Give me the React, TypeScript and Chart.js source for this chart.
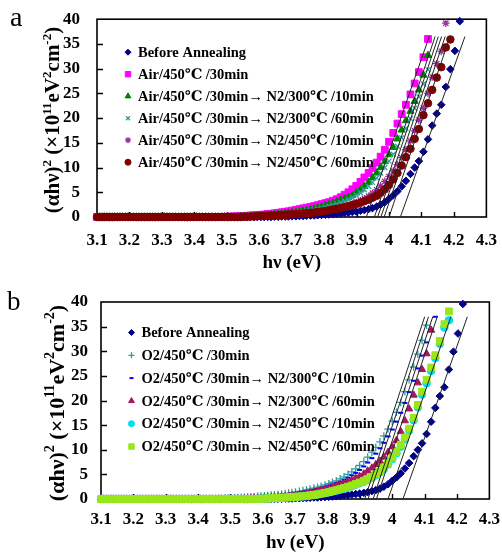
import React, { useEffect, useRef } from "react";
import { Chart, registerables } from "chart.js";
import { drawPoint } from "chart.js/helpers";

Chart.register(...registerables);

const FONT = '"Liberation Serif", "Times New Roman", "DejaVu Serif", "Noto Sans CJK SC", serif';

// photon energy grid (eV) shared by all spectra
const energy = [
  3.100, 3.108, 3.116, 3.123, 3.131, 3.139, 3.147, 3.155, 3.163, 3.171,
  3.179, 3.188, 3.196, 3.204, 3.212, 3.221, 3.229, 3.238, 3.246, 3.255,
  3.263, 3.272, 3.280, 3.289, 3.298, 3.307, 3.316, 3.324, 3.333, 3.342,
  3.351, 3.360, 3.370, 3.379, 3.388, 3.397, 3.407, 3.416, 3.425, 3.435,
  3.444, 3.454, 3.464, 3.473, 3.483, 3.493, 3.503, 3.513, 3.523, 3.533,
  3.543, 3.553, 3.563, 3.573, 3.584, 3.594, 3.605, 3.615, 3.626, 3.636,
  3.647, 3.658, 3.669, 3.680, 3.690, 3.701, 3.713, 3.724, 3.735, 3.746,
  3.758, 3.769, 3.780, 3.792, 3.804, 3.815, 3.827, 3.839, 3.851, 3.863,
  3.875, 3.887, 3.899, 3.912, 3.924, 3.937, 3.949, 3.962, 3.974, 3.987,
  4.000, 4.013, 4.026, 4.039, 4.052, 4.066, 4.079, 4.092, 4.106, 4.120,
  4.133, 4.147, 4.161, 4.175, 4.189, 4.203, 4.218, 4.232,
];

const xTickValues = [3.1, 3.2, 3.3, 3.4, 3.5, 3.6, 3.7, 3.8, 3.9, 4.0, 4.1, 4.2, 4.3];
const xTickLabels = ["3.1", "3.2", "3.3", "3.4", "3.5", "3.6", "3.7", "3.8", "3.9", "4", "4.1", "4.2", "4.3"];
const yTickValues = [0, 5, 10, 15, 20, 25, 30, 35, 40];
const yTickLabels = ["0", "5", "10", "15", "20", "25", "30", "35", "40"];

// ---- (αhν)² values, ×10^11 eV² cm^-2 ----
const beforeAnnealing = [
  0, 0, 0, 0, 0, 0, 0, 0, 0, 0,
  0, 0, 0, 0, 0, 0, 0, 0, 0, 0,
  0, 0, 0, 0, 0, 0, 0, 0, 0, 0,
  0, 0, 0, 0, 0, 0, 0, 0, 0, 0,
  0, 0, 0, 0, 0, 0, 0, 0, 0, 0,
  0, 0, 0, 0, 0, 0, 0, 0, 0, 0,
  0.05, 0.05, 0.1, 0.1, 0.1, 0.15, 0.15, 0.2, 0.2, 0.25,
  0.3, 0.3, 0.35, 0.4, 0.45, 0.5, 0.55, 0.6, 0.7, 0.8,
  0.9, 1.0, 1.1, 1.25, 1.4, 1.6, 1.8, 2.1, 2.5, 3.0,
  3.7, 4.4, 5.2, 6.2, 7.3, 8.7, 10.0, 11.3, 13.2, 15.7,
  18.5, 20.9, 22.7, 26.3, 29.9, 33.6, 39.6,
];

// panel a: air annealed
const air450_30 = [
  0, 0, 0, 0, 0, 0, 0, 0, 0, 0,
  0, 0, 0, 0, 0, 0, 0, 0, 0, 0,
  0, 0, 0, 0, 0, 0, 0, 0, 0, 0,
  0, 0, 0, 0, 0, 0, 0, 0, 0, 0,
  0, 0, 0, 0, 0, 0.05, 0.05, 0.1, 0.1, 0.15,
  0.2, 0.2, 0.25, 0.3, 0.35, 0.4, 0.45, 0.5, 0.6, 0.65,
  0.75, 0.85, 0.95, 1.05, 1.15, 1.3, 1.45, 1.6, 1.75, 1.9,
  2.05, 2.2, 2.4, 2.6, 2.8, 3.0, 3.3, 3.6, 4.0, 4.5,
  5.0, 5.6, 6.3, 7.1, 8.0, 8.9, 9.9, 11.0, 12.2, 13.6,
  15.2, 17.0, 18.9, 20.8, 22.7, 24.8, 27.0, 29.3, 32.3, 36.0,
];
const air_n2_300_10 = [
  0, 0, 0, 0, 0, 0, 0, 0, 0, 0,
  0, 0, 0, 0, 0, 0, 0, 0, 0, 0,
  0, 0, 0, 0, 0, 0, 0, 0, 0, 0,
  0, 0, 0, 0, 0, 0, 0, 0, 0, 0,
  0, 0, 0, 0, 0, 0, 0, 0, 0, 0,
  0.1, 0.1, 0.15, 0.15, 0.2, 0.25, 0.3, 0.35, 0.4, 0.45,
  0.5, 0.55, 0.65, 0.7, 0.8, 0.9, 1.0, 1.1, 1.2, 1.35,
  1.5, 1.65, 1.85, 2.05, 2.3, 2.55, 2.8, 3.1, 3.4, 3.7,
  4.0, 4.4, 4.9, 5.5, 6.2, 7.0, 7.9, 8.9, 10.0, 11.2,
  12.6, 14.1, 15.8, 17.6, 19.5, 21.4, 23.4, 25.7, 28.7, 32.7,
];
const air_n2_300_60 = [
  0, 0, 0, 0, 0, 0, 0, 0, 0, 0,
  0, 0, 0, 0, 0, 0, 0, 0, 0, 0,
  0, 0, 0, 0, 0, 0, 0, 0, 0, 0,
  0, 0, 0, 0, 0, 0, 0, 0, 0, 0,
  0, 0, 0, 0, 0, 0, 0, 0, 0, 0,
  0.1, 0.1, 0.15, 0.15, 0.2, 0.2, 0.25, 0.3, 0.35, 0.4,
  0.45, 0.5, 0.55, 0.6, 0.7, 0.8, 0.9, 1.0, 1.1, 1.2,
  1.35, 1.5, 1.65, 1.8, 2.0, 2.2, 2.4, 2.65, 2.95, 3.25,
  3.6, 3.95, 4.4, 4.9, 5.5, 6.2, 7.0, 7.9, 8.9, 10.0,
  11.3, 12.7, 14.3, 16.0, 17.9, 19.9, 22.0, 24.3, 26.9, 29.8,
];
const air_n2_450_10 = [
  0, 0, 0, 0, 0, 0, 0, 0, 0, 0,
  0, 0, 0, 0, 0, 0, 0, 0, 0, 0,
  0, 0, 0, 0, 0, 0, 0, 0, 0, 0,
  0, 0, 0, 0, 0, 0, 0, 0, 0, 0,
  0, 0, 0, 0, 0, 0, 0, 0, 0, 0,
  0, 0, 0.05, 0.05, 0.1, 0.1, 0.15, 0.15, 0.2, 0.2,
  0.25, 0.3, 0.35, 0.4, 0.45, 0.5, 0.55, 0.6, 0.65, 0.7,
  0.8, 0.9, 1.0, 1.1, 1.2, 1.35, 1.5, 1.65, 1.85, 2.05,
  2.3, 2.6, 2.9, 3.3, 3.7, 4.2, 4.8, 5.5, 6.3, 7.2,
  8.2, 9.3, 10.6, 12.0, 13.6, 15.4, 17.4, 19.6, 22.0, 25.0,
  28.3, 31.0, 33.5, 39.2,
];
const air_n2_450_60 = [
  0, 0, 0, 0, 0, 0, 0, 0, 0, 0,
  0, 0, 0, 0, 0, 0, 0, 0, 0, 0,
  0, 0, 0, 0, 0, 0, 0, 0, 0, 0,
  0, 0, 0, 0, 0, 0, 0, 0, 0, 0,
  0, 0, 0, 0, 0, 0, 0, 0, 0, 0,
  0, 0.05, 0.05, 0.1, 0.1, 0.15, 0.2, 0.2, 0.25, 0.3,
  0.3, 0.35, 0.4, 0.45, 0.5, 0.55, 0.6, 0.65, 0.7, 0.75,
  0.85, 0.9, 1.0, 1.1, 1.2, 1.35, 1.5, 1.65, 1.8, 2.0,
  2.2, 2.4, 2.65, 2.9, 3.2, 3.5, 3.9, 4.3, 4.9, 5.6,
  6.5, 7.6, 8.9, 10.4, 12.1, 13.8, 15.8, 17.8, 20.6, 23.0,
  25.7, 28.2, 30.3, 34.3, 35.9,
];

// panel b: O2 annealed
const o2450_30 = [
  0, 0, 0, 0, 0, 0, 0, 0, 0, 0,
  0, 0, 0, 0, 0, 0, 0, 0, 0, 0,
  0, 0, 0, 0, 0, 0, 0, 0, 0, 0,
  0, 0, 0, 0, 0, 0, 0, 0, 0, 0,
  0.05, 0.05, 0.1, 0.1, 0.15, 0.15, 0.2, 0.25, 0.3, 0.3,
  0.35, 0.4, 0.45, 0.5, 0.55, 0.6, 0.65, 0.7, 0.8, 0.85,
  0.9, 1.0, 1.1, 1.2, 1.3, 1.4, 1.55, 1.7, 1.85, 2.0,
  2.2, 2.4, 2.6, 2.85, 3.1, 3.4, 3.7, 4.1, 4.5, 5.0,
  5.5, 6.1, 6.8, 7.6, 8.5, 9.5, 10.5, 11.6, 12.8, 14.2,
  15.8, 17.6, 19.6, 21.8, 24.2, 26.8, 29.4, 32.2, 35.3,
];
const o2_n2_300_10 = [
  0, 0, 0, 0, 0, 0, 0, 0, 0, 0,
  0, 0, 0, 0, 0, 0, 0, 0, 0, 0,
  0, 0, 0, 0, 0, 0, 0, 0, 0, 0,
  0, 0, 0, 0, 0, 0, 0, 0, 0, 0,
  0, 0, 0, 0, 0, 0.05, 0.1, 0.1, 0.15, 0.2,
  0.2, 0.25, 0.3, 0.35, 0.4, 0.45, 0.5, 0.55, 0.6, 0.65,
  0.7, 0.8, 0.9, 0.95, 1.05, 1.15, 1.3, 1.4, 1.55, 1.7,
  1.85, 2.0, 2.2, 2.4, 2.65, 2.9, 3.2, 3.5, 3.9, 4.3,
  4.8, 5.3, 5.9, 6.6, 7.4, 8.3, 9.2, 10.3, 11.4, 12.7,
  14.1, 15.7, 17.5, 19.5, 21.7, 24.0, 26.5, 29.1, 31.8, 34.5,
  37.0,
];
const o2_n2_300_60 = [
  0, 0, 0, 0, 0, 0, 0, 0, 0, 0,
  0, 0, 0, 0, 0, 0, 0, 0, 0, 0,
  0, 0, 0, 0, 0, 0, 0, 0, 0, 0,
  0, 0, 0, 0, 0, 0, 0, 0, 0, 0,
  0, 0, 0, 0, 0, 0, 0, 0, 0, 0,
  0.05, 0.1, 0.1, 0.15, 0.2, 0.2, 0.25, 0.3, 0.35, 0.4,
  0.45, 0.5, 0.55, 0.6, 0.7, 0.8, 0.9, 1.0, 1.15, 1.3,
  1.45, 1.6, 1.8, 2.0, 2.2, 2.45, 2.7, 2.95, 3.2, 3.5,
  3.8, 4.2, 4.6, 5.1, 5.7, 6.3, 7.0, 7.7, 8.5, 9.5,
  10.6, 11.9, 13.7, 15.9, 18.3, 21.1, 23.6, 26.3, 29.5, 34.3,
];
const o2_n2_450_10 = [
  0, 0, 0, 0, 0, 0, 0, 0, 0, 0,
  0, 0, 0, 0, 0, 0, 0, 0, 0, 0,
  0, 0, 0, 0, 0, 0, 0, 0, 0, 0,
  0, 0, 0, 0, 0, 0, 0, 0, 0, 0,
  0, 0, 0, 0, 0, 0, 0, 0, 0, 0,
  0, 0, 0, 0, 0.05, 0.08, 0.1, 0.12, 0.15, 0.2,
  0.22, 0.25, 0.3, 0.35, 0.4, 0.45, 0.5, 0.55, 0.62, 0.7,
  0.8, 0.9, 1.05, 1.2, 1.35, 1.5, 1.7, 1.9, 2.1, 2.35,
  2.6, 2.9, 3.2, 3.5, 3.9, 4.3, 4.8, 5.4, 6.1, 7.0,
  8.1, 9.3, 10.6, 12.1, 13.9, 16.0, 18.6, 21.2, 23.5, 26.0,
  28.6, 31.5, 34.8, 36.3,
];
const o2_n2_450_60 = [
  0, 0, 0, 0, 0, 0, 0, 0, 0, 0,
  0, 0, 0, 0, 0, 0, 0, 0, 0, 0,
  0, 0, 0, 0, 0, 0, 0, 0, 0, 0,
  0, 0, 0, 0, 0, 0, 0, 0, 0, 0,
  0, 0, 0, 0, 0, 0, 0, 0, 0, 0,
  0, 0, 0, 0, 0.05, 0.05, 0.1, 0.1, 0.15, 0.2,
  0.2, 0.25, 0.3, 0.35, 0.4, 0.45, 0.5, 0.55, 0.65, 0.75,
  0.85, 0.95, 1.1, 1.25, 1.4, 1.6, 1.8, 2.0, 2.25, 2.5,
  2.75, 3.05, 3.35, 3.7, 4.1, 4.5, 5.0, 5.6, 6.4, 7.3,
  8.4, 9.6, 11.0, 12.5, 14.3, 16.5, 19.1, 21.8, 24.2, 26.7,
  29.2, 32.1, 35.5, 38.1,
];

const labelsA = [
  "Before Annealing",
  "Air/450℃ /30min",
  "Air/450℃ /30min→ N2/300℃ /10min",
  "Air/450℃ /30min→ N2/300℃ /60min",
  "Air/450℃ /30min→ N2/450℃ /10min",
  "Air/450℃ /30min→ N2/450℃ /60min",
];
const labelsB = [
  "Before Annealing",
  "O2/450℃ /30min",
  "O2/450℃ /30min→ N2/300℃ /10min",
  "O2/450℃ /30min→ N2/300℃ /60min",
  "O2/450℃ /30min→ N2/450℃ /10min",
  "O2/450℃ /30min→ N2/450℃ /60min",
];

// linear fits: x-intercept (eV) and end point energy at fitTop
const fitStartA = [3.930, 3.955, 3.965, 3.975, 3.985, 4.000, 4.035];
const fitEndA = [4.124, 4.142, 4.152, 4.162, 4.173, 4.188, 4.234];
const fitTopA = 36.5;
const fitStartB = [3.915, 3.925, 3.941, 3.951, 3.987, 4.033];
const fitEndB = [4.100, 4.112, 4.125, 4.139, 4.181, 4.232];
const fitTopB = 37;

type Sty = { pointStyle: string; color: string; radius: number; bw: number };
const stylesA: Sty[] = [
  { pointStyle: "rectRot", color: "#00008b", radius: 3.8, bw: 1 },
  { pointStyle: "rect", color: "#ff00ff", radius: 4.8, bw: 1 },
  { pointStyle: "triangle", color: "#008000", radius: 4.2, bw: 1 },
  { pointStyle: "crossRot", color: "#2f9f9f", radius: 3.5, bw: 1.3 },
  { pointStyle: "star", color: "#993399", radius: 3.8, bw: 1.3 },
  { pointStyle: "circle", color: "#800000", radius: 3.8, bw: 1 },
];
const stylesB: Sty[] = [
  { pointStyle: "rectRot", color: "#00008b", radius: 3.8, bw: 1 },
  { pointStyle: "cross", color: "#2f9f9f", radius: 3.8, bw: 1.3 },
  { pointStyle: "line", color: "#0000ff", radius: 2.5, bw: 2 },
  { pointStyle: "triangle", color: "#a3195b", radius: 4.2, bw: 1 },
  { pointStyle: "circle", color: "#00e0f0", radius: 3.8, bw: 1 },
  { pointStyle: "rect", color: "#99e619", radius: 4.8, bw: 1 },
];

type Geo = {
  height: number; left: number; right: number; top: number; xAxisH: number; padBottom: number;
  xTickPad: number; yTickPad: number; tickSize: number;
  yTitleX: number; yTitleY: number; yTitleSize: number;
  legendX: number; legendY0: number; legendStep: number; legendSize: number;
  letter: string; letterX: number; letterY: number; letterSize: number;
};
const geoA: Geo = {
  height: 277, left: 97, right: 488, top: 15, xAxisH: 57, padBottom: 3,
  xTickPad: 5, yTickPad: 9, tickSize: 17,
  yTitleX: 52, yTitleY: 120, yTitleSize: 21,
  legendX: 128, legendY0: 33, legendStep: 22, legendSize: 14.5,
  letter: "a", letterX: 10, letterY: 26, letterSize: 28,
};
const geoB: Geo = {
  height: 278, left: 101, right: 491, top: 25, xAxisH: 55, padBottom: 1,
  xTickPad: 2, yTickPad: 5, tickSize: 17,
  yTitleX: 56, yTitleY: 126, yTitleSize: 22,
  legendX: 131.5, legendY0: 30.5, legendStep: 22.8, legendSize: 14.5,
  letter: "b", letterX: 7, letterY: 33, letterSize: 27,
};

type PanelDef = {
  geo: Geo; labels: string[]; series: number[][]; styles: Sty[];
  fitStart: number[]; fitEnd: number[]; fitTop: number;
};
const panelA: PanelDef = {
  geo: geoA, labels: labelsA, styles: stylesA, fitStart: fitStartA, fitEnd: fitEndA, fitTop: fitTopA,
  series: [beforeAnnealing, air450_30, air_n2_300_10, air_n2_300_60, air_n2_450_10, air_n2_450_60],
};
const panelB: PanelDef = {
  geo: geoB, labels: labelsB, styles: stylesB, fitStart: fitStartB, fitEnd: fitEndB, fitTop: fitTopB,
  series: [beforeAnnealing, o2450_30, o2_n2_300_10, o2_n2_300_60, o2_n2_450_10, o2_n2_450_60],
};

const yTitleParts: [string, boolean][] = [
  ["(αhν)", false], ["2", true], [" (×10", false], ["11", true], ["eV", false],
  ["2", true], ["cm", false], ["-2", true], [")", false],
];

function drawYTitle(ctx: CanvasRenderingContext2D, cx: number, cy: number, size: number) {
  const big = `bold ${size}px ${FONT}`;
  const small = `bold ${Math.round(size * 0.62)}px ${FONT}`;
  ctx.save();
  let total = 0;
  const widths = yTitleParts.map(([t, sup]) => {
    ctx.font = sup ? small : big;
    const w = ctx.measureText(t).width;
    total += w;
    return w;
  });
  ctx.translate(cx, cy);
  ctx.rotate(-Math.PI / 2);
  ctx.fillStyle = "#000";
  ctx.textBaseline = "alphabetic";
  ctx.textAlign = "left";
  let x = -total / 2;
  const base = size * 0.35;
  yTitleParts.forEach(([t, sup], i) => {
    ctx.font = sup ? small : big;
    ctx.fillText(t, x, sup ? base - size * 0.42 : base);
    x += widths[i];
  });
  ctx.restore();
}

function makeDecor(p: PanelDef) {
  return {
    id: "decor",
    beforeDatasetsDraw(chart: any) {
      const { ctx, chartArea: a } = chart;
      const xs = chart.scales.x;
      const ys = chart.scales.y;
      ctx.save();
      ctx.strokeStyle = "#000";
      ctx.lineWidth = 1.6;
      ctx.strokeRect(a.left, a.top, a.right - a.left, a.bottom - a.top);
      ctx.lineWidth = 1.4;
      ctx.beginPath();
      xs.ticks.forEach((t: any, i: number) => {
        if (i === 0 || i === xs.ticks.length - 1) return;
        const px = Math.round(xs.getPixelForValue(t.value)) + 0.5;
        ctx.moveTo(px, a.bottom);
        ctx.lineTo(px, a.bottom - 5);
      });
      ys.ticks.forEach((t: any, i: number) => {
        if (i === 0 || i === ys.ticks.length - 1) return;
        const py = Math.round(ys.getPixelForValue(t.value)) + 0.5;
        ctx.moveTo(a.left, py);
        ctx.lineTo(a.left + 6, py);
      });
      ctx.stroke();
      ctx.restore();
    },
    afterDraw(chart: any) {
      const { ctx, chartArea: a } = chart;
      const g = p.geo;
      ctx.save();
      // legend inside plot
      p.labels.forEach((lab, i) => {
        const s = p.styles[i];
        const y = a.top + g.legendY0 + i * g.legendStep;
        ctx.fillStyle = s.color;
        ctx.strokeStyle = s.color;
        ctx.lineWidth = s.bw;
        drawPoint(ctx, { pointStyle: s.pointStyle as any, rotation: 0, radius: s.radius * 0.8, borderWidth: s.bw }, g.legendX, y);
        ctx.fillStyle = "#000";
        ctx.font = `bold ${g.legendSize}px ${FONT}`;
        ctx.textAlign = "left";
        ctx.textBaseline = "middle";
        ctx.fillText(lab, g.legendX + 10, y + 1);
      });
      drawYTitle(ctx, g.yTitleX, g.yTitleY, g.yTitleSize);
      ctx.fillStyle = "#000";
      ctx.font = `${g.letterSize}px ${FONT}`;
      ctx.textAlign = "left";
      ctx.textBaseline = "alphabetic";
      ctx.fillText(g.letter, g.letterX, g.letterY);
      ctx.restore();
    },
  };
}

function Panel({ p }: { p: PanelDef }) {
  const ref = useRef<HTMLCanvasElement>(null);
  useEffect(() => {
    const canvas = ref.current;
    if (!canvas) return;
    const g = p.geo;
    const n = p.series.length;
    const datasets: any[] = p.series.map((ys, i) => ({
      label: p.labels[i],
      data: ys.map((y, j) => ({ x: energy[j], y })),
      pointStyle: p.styles[i].pointStyle,
      pointRadius: p.styles[i].radius,
      backgroundColor: p.styles[i].color,
      borderColor: p.styles[i].color,
      borderWidth: p.styles[i].bw,
      pointBorderWidth: p.styles[i].bw,
      showLine: false,
      clip: false,
      order: n - i,
    }));
    p.fitStart.forEach((s, k) => {
      datasets.push({
        label: "fit",
        data: [{ x: s, y: 0 }, { x: p.fitEnd[k], y: p.fitTop }],
        showLine: true,
        borderColor: "#222",
        borderWidth: 1,
        pointRadius: 0,
        clip: false,
        order: 0,
      });
    });
    const tickFont = { family: FONT, size: g.tickSize, weight: "bold" as const };
    const chart = new Chart(canvas, {
      type: "scatter",
      data: { datasets },
      options: {
        animation: false,
        responsive: false,
        devicePixelRatio: 1,
        events: [],
        layout: { padding: { left: 0, top: g.top, right: 502 - g.right, bottom: g.padBottom } },
        plugins: { legend: { display: false }, tooltip: { enabled: false } },
        scales: {
          x: {
            type: "linear",
            min: 3.1,
            max: 4.3,
            grid: { display: false },
            border: { display: false },
            afterBuildTicks: (s: any) => { s.ticks = xTickValues.map((v) => ({ value: v })); },
            afterFit: (s: any) => { s.height = g.xAxisH; },
            ticks: {
              autoSkip: false, maxRotation: 0, minRotation: 0, padding: g.xTickPad, color: "#000", font: tickFont,
              callback: (_v: any, i: number) => xTickLabels[i],
            },
            title: {
              display: true, text: "hν (eV)", color: "#000",
              font: { family: FONT, size: 19, weight: "bold" }, padding: { top: 0, bottom: 0 },
            },
          },
          y: {
            type: "linear",
            min: 0,
            max: 40,
            grid: { display: false },
            border: { display: false },
            afterBuildTicks: (s: any) => { s.ticks = yTickValues.map((v) => ({ value: v })); },
            afterFit: (s: any) => { s.width = g.left; },
            ticks: {
              autoSkip: false, padding: g.yTickPad, color: "#000", font: tickFont,
              callback: (_v: any, i: number) => yTickLabels[i],
            },
          },
        },
      },
      plugins: [makeDecor(p)],
    } as any);
    return () => chart.destroy();
  }, [p]);
  return (
    <canvas
      ref={ref}
      width={502}
      height={p.geo.height}
      style={{ display: "block", width: 502, height: p.geo.height }}
    />
  );
}

export default function App() {
  return (
    <div style={{ position: "absolute", left: 0, top: 0, width: 502, height: 555, background: "#fff" }}>
      <Panel p={panelA} />
      <Panel p={panelB} />
    </div>
  );
}
